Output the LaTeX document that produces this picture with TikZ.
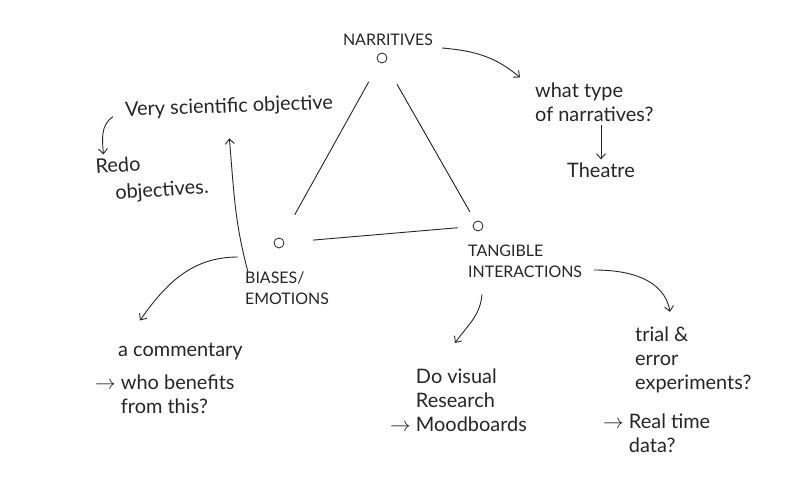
\documentclass[tikz,border=0pt]{standalone}
\usepackage{fontspec}
\setmainfont{Lato}
\usetikzlibrary{arrows.meta,positioning}
\definecolor{Pen}{HTML}{262626}
\tikzset{
  >={Straight Barb[length=5pt,width=9pt]},
  dot/.style={circle,draw=Pen,line width=.8pt,minimum size=10pt,inner sep=0pt},
  caps/.style={font=\fontsize{16}{21}\selectfont,text=Pen,align=left,inner sep=0pt},
  note/.style={font=\fontsize{20}{24}\selectfont,text=Pen,align=left,inner sep=0pt},
  side/.style={line width=.9pt,draw=Pen},
  link/.style={->,line width=.9pt,draw=Pen}
}

\begin{document}
\begin{tikzpicture}[x=1bp,y=1bp]
    \useasboundingbox[fill=white] (0,0) rectangle (788,-494);
    % the three corners
    \node[caps] (narrtxt) at (388,-40) {NARRITIVES};
    \node[dot] (narr) at (382,-58) {};
    \node[dot] (bias) at (279,-243) {};
    \node[dot] (tang) at (478,-226) {};
    \node[caps,anchor=west] (biastxt) at (245,-288) {BIASES/\\EMOTIONS};
    \node[caps,anchor=west] (tangtxt) at (468,-261) {TANGIBLE\\INTERACTIONS};
    \draw[side,shorten <=22,shorten >=27] (narr) -- (bias);
    \draw[side,shorten <=25,shorten >=11] (narr) -- (tang);
    \draw[side,shorten <=29,shorten >=15] (bias) -- (tang);
    % notes
    \node[note,rotate=2] (sci) at (229,-107) {Very scientific objective};
    \node[note,rotate=4] (redo) at (118,-165) {Redo};
    \node[note,rotate=4] (redo2) at (162,-191) {objectives.};
    \node[note,anchor=west] (what) at (535,-102) {what type\\of narratives?};
    \node[note] (theatre) at (601,-170) {Theatre};
    \node[note,anchor=west] (comm) at (118,-352) {a commentary};
    \node[note,anchor=west] (who) at (95,-394) {$\rightarrow$ who benefits\\\hphantom{$\rightarrow$ }from this?};
    \node[note,anchor=west] (visual) at (390,-400) {\hphantom{$\rightarrow$ }Do visual\\\hphantom{$\rightarrow$ }Research\\$\rightarrow$ Moodboards};
    \node[note,anchor=west] (trial) at (635,-360) {trial \&\\error\\experiments?};
    \node[note,anchor=west] (real) at (603,-433) {$\rightarrow$ Real time\\\hphantom{$\rightarrow$ }data?};
    % arrows
    \draw[link] ([shift={(9,-8)}]narrtxt.east) to[out=-5,in=140] ([shift={(-15,5)}]what.north west);
    \draw[link] ([yshift=-3]what.south -| theatre) -- ([yshift=3]theatre.north);
    \draw[link] ([shift={(-31,-29)}]bias.center) to[out=105,in=-85] ([yshift=-22]sci.south);
    \draw[link] ([shift={(-12,-6)}]sci.west) to[out=215,in=95] ([shift={(-14,3)}]redo.north);
    \draw[link] ([shift={(-41,-14)}]bias.center) to[out=180,in=55] ([shift={(22,23)}]comm.north west);
    \draw[link] ([shift={(14,-17)}]tangtxt.south west) to[out=-95,in=55] ([shift={(-23,-117)}]tang.center);
    \draw[link] ([shift={(12,-9)}]tangtxt.east) to[out=0,in=100] ([shift={(35,15)}]trial.north west);
\end{tikzpicture}
\end{document}
